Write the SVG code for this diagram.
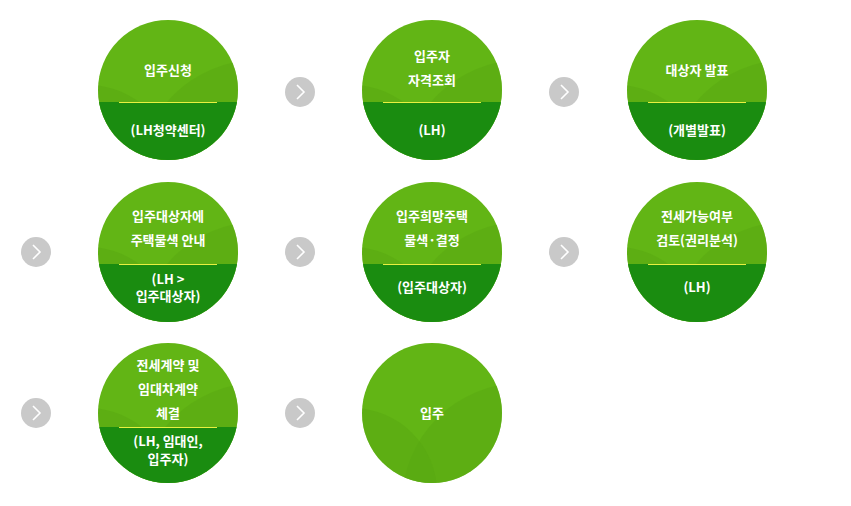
<svg xmlns="http://www.w3.org/2000/svg" width="851" height="506" viewBox="0 0 851 506">
<style>
text{font-family:"Noto Sans CJK KR","Noto Sans",sans-serif;font-size:13px;font-weight:bold;fill:#fff;text-anchor:middle}
</style>
<defs>
<clipPath id="c"><circle cx="0" cy="0" r="70"/></clipPath>
<g id="bg">
<g clip-path="url(#c)">
<rect x="-70" y="-70" width="140" height="140" fill="#62b515"/>
<circle cx="90" cy="90" r="120" fill="#5aaa13" opacity="0.6"/>
<circle cx="-80" cy="80" r="85" fill="#58a812" opacity="0.5"/>
</g>
</g>
<g id="half" clip-path="url(#c)"><rect x="-70" y="12" width="140" height="60" fill="#1a8c10"/><line x1="-49" y1="12.5" x2="49" y2="12.5" stroke="#e8f040" stroke-width="1"/></g>
<g id="half3" clip-path="url(#c)"><rect x="-70" y="14" width="140" height="60" fill="#1a8c10"/><line x1="-49" y1="14.5" x2="49" y2="14.5" stroke="#e8f040" stroke-width="1"/></g>
<g id="a"><circle r="15" fill="#c9c9c9"/><path d="M-3,-7 L4,0 L-3,7" fill="none" stroke="#fff" stroke-width="1.6"/></g>
</defs>
<g id="connectors">
<use href="#a" x="300" y="92"/><use href="#a" x="564" y="92"/>
<use href="#a" x="36" y="252"/><use href="#a" x="300" y="252"/><use href="#a" x="564" y="252"/>
<use href="#a" x="36" y="413"/><use href="#a" x="300" y="413"/>
</g>
<g id="n1"><use href="#bg" x="168" y="90"/><use href="#half" x="168" y="90"/><text x="168" y="75">입주신청</text><text x="168" y="135">(LH청약센터)</text></g>
<g id="n2"><use href="#bg" x="432" y="90"/><use href="#half" x="432" y="90"/><text x="432" y="61">입주자</text><text x="432" y="85">자격조회</text><text x="432" y="135">(LH)</text></g>
<g id="n3"><use href="#bg" x="697" y="90"/><use href="#half" x="697" y="90"/><text x="697" y="75">대상자 발표</text><text x="697" y="135">(개별발표)</text></g>
<g id="n4"><use href="#bg" x="168" y="252"/><use href="#half" x="168" y="252"/><text x="168" y="221">입주대상자에</text><text x="168" y="245">주택물색 안내</text><text x="168" y="284">(LH &gt;</text><text x="168" y="301">입주대상자)</text></g>
<g id="n5"><use href="#bg" x="432" y="252"/><use href="#half" x="432" y="252"/><text x="432" y="221">입주희망주택</text><text x="432" y="245">물색·결정</text><text x="432" y="292">(입주대상자)</text></g>
<g id="n6"><use href="#bg" x="697" y="252"/><use href="#half" x="697" y="252"/><text x="697" y="221">전세가능여부</text><text x="697" y="245">검토(권리분석)</text><text x="697" y="292">(LH)</text></g>
<g id="n7"><use href="#bg" x="168" y="413"/><use href="#half3" x="168" y="413"/><text x="168" y="370">전세계약 및</text><text x="168" y="394">임대차계약</text><text x="168" y="418">체결</text><text x="168" y="446">(LH, 임대인,</text><text x="168" y="464">입주자)</text></g>
<g id="n8"><use href="#bg" x="432" y="413"/><text x="432" y="418">입주</text></g>
</svg>
